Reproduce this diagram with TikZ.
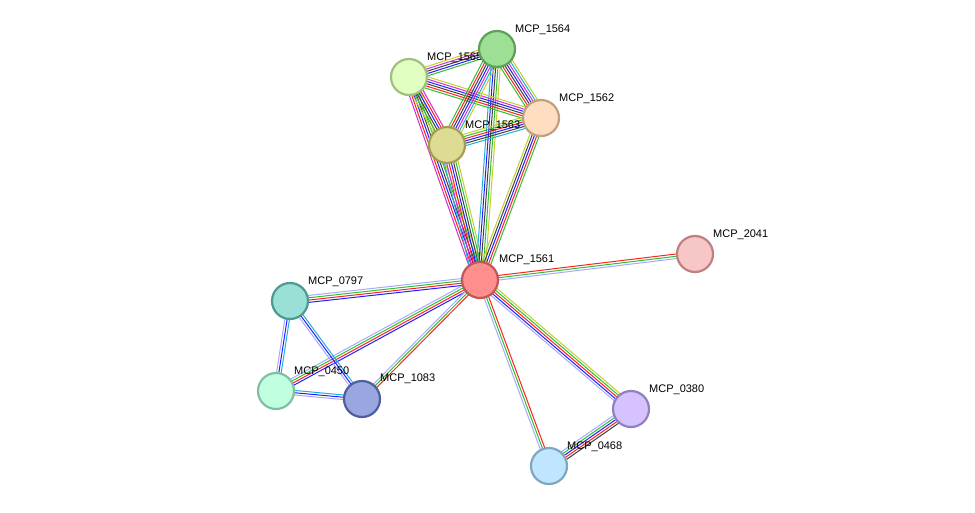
\documentclass[tikz,border=0pt]{standalone}
\usepackage{fontspec}
\setmainfont{Liberation Sans}
\usetikzlibrary{calc}
\definecolor{cR}{HTML}{FF2020}
\definecolor{cG}{HTML}{30C030}
\definecolor{cB}{HTML}{2020FF}
\definecolor{cL}{HTML}{A8A8FF}
\definecolor{cC}{HTML}{20B0D8}
\definecolor{cM}{HTML}{D030D0}
\definecolor{cY}{HTML}{C0D030}
\definecolor{cK}{HTML}{404040}
\newcommand\medge[4]{%
  \foreach \cc [count=\i] in {#4} {%
    \pgfmathsetmacro\off{(\i-1-(#3-1)/2)*2.3}%
    \draw[\cc,line width=1pt] ($(#1)!\off pt!90:(#2)$) -- ($(#2)!\off pt!-90:(#1)$);
  }}
\tikzset{
  prot/.style={circle,minimum size=36pt,inner sep=0pt,line width=2.2pt},
  lab/.style={anchor=base west,font=\fontsize{11}{13}\selectfont,inner sep=0pt}
}
\begin{document}
\begin{tikzpicture}[x=1pt,y=-1pt]
\useasboundingbox[fill=white] (0,0) rectangle (975,512);
\coordinate (a1561) at (480,280);
\coordinate (a1564) at (497,49);
\coordinate (a1565) at (409,77);
\coordinate (a1562) at (541,118);
\coordinate (a1563) at (447,145);
\coordinate (a2041) at (695,254);
\coordinate (a0797) at (290,301);
\coordinate (a0450) at (276,391);
\coordinate (a1083) at (362,399);
\coordinate (a0380) at (631,409);
\coordinate (a0468) at (549,466);
% edges
\medge{a1561}{a0797}{4}{cL,cG,cR,cB}
\medge{a1561}{a0450}{4}{cL,cG,cR,cB}
\medge{a1561}{a1083}{3}{cL,cG,cR}
\medge{a0797}{a0450}{3}{cL,cB,cC}
\medge{a0797}{a1083}{3}{cL,cB,cC}
\medge{a0450}{a1083}{3}{cL,cB,cC}
\medge{a1561}{a2041}{3}{cL,cG,cR}
\medge{a1561}{a0380}{5}{cL,cB,cR,cG,cY}
\medge{a1561}{a0468}{3}{cL,cG,cR}
\medge{a0380}{a0468}{5}{cL,cG,cB,cR,cK}
\medge{a1561}{a1565}{6}{cY,cG,cK,cB,cR,cM}
\medge{a1561}{a1563}{7}{cY,cG,cK,cB,cR,cM,cC}
\medge{a1561}{a1564}{5}{cY,cG,cK,cB,cC}
\medge{a1561}{a1562}{5}{cG,cR,cB,cK,cY}
\medge{a1565}{a1564}{5}{cG,cB,cK,cM,cY}
\medge{a1565}{a1562}{6}{cG,cR,cK,cB,cM,cY}
\medge{a1565}{a1563}{6}{cY,cG,cK,cB,cR,cM}
\medge{a1564}{a1562}{7}{cG,cR,cK,cB,cM,cC,cY}
\medge{a1564}{a1563}{7}{cG,cR,cK,cB,cM,cC,cY}
\medge{a1563}{a1562}{6}{cC,cK,cB,cR,cG,cY}
% labels
\node[lab] (l1561) at (499,262) {MCP\_1561};
\node[lab] (l1564) at (515,32) {MCP\_1564};
\node[lab] (l1565) at (427,60) {MCP\_1565};
\node[lab] (l1562) at (559,101) {MCP\_1562};
\node[lab] (l1563) at (465,128) {MCP\_1563};
\node[lab] (l2041) at (713,237) {MCP\_2041};
\node[lab] (l0797) at (308,284) {MCP\_0797};
\node[lab] (l0450) at (294,374) {MCP\_0450};
\node[lab] (l1083) at (380,381) {MCP\_1083};
\node[lab] (l0380) at (649,392) {MCP\_0380};
\node[lab] (l0468) at (567,449) {MCP\_0468};
% nodes
\node[prot,fill={rgb,255:red,255;green,143;blue,143},draw={rgb,255:red,192;green,87;blue,87}] (n1561) at (a1561) {};
\node[prot,fill={rgb,255:red,224;green,255;blue,192},draw={rgb,255:red,160;green,191;blue,128}] (n1565) at (a1565) {};
\node[prot,fill={rgb,255:red,158;green,223;blue,150},draw={rgb,255:red,95;green,159;blue,90}] (n1564) at (a1564) {};
\node[prot,fill={rgb,255:red,255;green,221;blue,192},draw={rgb,255:red,192;green,160;blue,128}] (n1562) at (a1562) {};
\node[prot,fill={rgb,255:red,222;green,219;blue,148},draw={rgb,255:red,160;green,160;blue,80}] (n1563) at (a1563) {};
\node[prot,fill={rgb,255:red,247;green,198;blue,198},draw={rgb,255:red,192;green,128;blue,128}] (n2041) at (a2041) {};
\node[prot,fill={rgb,255:red,153;green,224;blue,214},draw={rgb,255:red,79;green,154;blue,144}] (n0797) at (a0797) {};
\node[prot,fill={rgb,255:red,192;green,255;blue,224},draw={rgb,255:red,128;green,192;blue,160}] (n0450) at (a0450) {};
\node[prot,fill={rgb,255:red,154;green,166;blue,224},draw={rgb,255:red,80;green,94;blue,160}] (n1083) at (a1083) {};
\node[prot,fill={rgb,255:red,213;green,194;blue,255},draw={rgb,255:red,144;green,128;blue,192}] (n0380) at (a0380) {};
\node[prot,fill={rgb,255:red,192;green,230;blue,255},draw={rgb,255:red,128;green,166;blue,192}] (n0468) at (a0468) {};
\end{tikzpicture}
\end{document}
